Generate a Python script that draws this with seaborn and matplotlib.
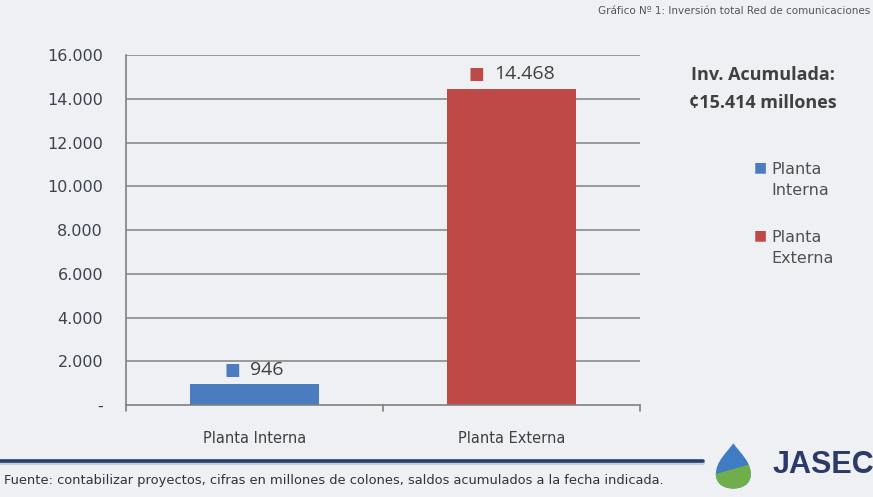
"""Inversión total Red de comunicaciones - bar chart"""

import matplotlib
matplotlib.use("Agg")
import matplotlib.pyplot as plt
from matplotlib.offsetbox import TextArea, HPacker, AnnotationBbox
from matplotlib.path import Path
from matplotlib.patches import PathPatch, Polygon
import seaborn as sns
import pandas as pd


# data (millones de colones)
categories = ['Planta Interna', 'Planta Externa']
values = [946, 14468]
total = 15414
y_ticks = [0, 2000, 4000, 6000, 8000, 10000, 12000, 14000, 16000]
legend_labels = ['Planta\nInterna', 'Planta\nExterna']

BG = '#eef0f4'
colors = ['#4a7cbf', '#be4a48']
TXT = '#404040'


def fmt(v):
    # spanish thousands separator, zero shown as "-"
    return '-' if v == 0 else f'{v:,}'.replace(',', '.')


sns.set_style('white')
plt.rcParams['font.family'] = ['Open Sans', 'DejaVu Sans']

df = pd.DataFrame({'cat': categories, 'val': values})

fig = plt.figure(figsize=(8.73, 4.97), dpi=100, facecolor=BG)
ax = fig.add_axes([0.1443, 0.185, 0.5888, 0.704], facecolor=BG)

# gridlines behind bars
for t in y_ticks[1:]:
    ax.axhline(t, color='#8a8a8a', lw=1.2, zorder=0)

sns.barplot(data=df, x='cat', y='val', hue='cat', palette=colors,
            width=0.5, legend=False, ax=ax, zorder=2, saturation=1,
            linewidth=0, edgecolor='none')

ax.set_xlim(-0.5, 1.5)
ax.set_ylim(0, 16000)
ax.set_yticks(y_ticks)
ax.set_yticklabels([fmt(t) for t in y_ticks], fontsize=11.5, color='#3c4250',
                   family='DejaVu Sans')
ax.set_xticks([0, 1])
ax.set_xticklabels(categories, fontsize=10.5, color=TXT, family='DejaVu Sans')
ax.set_xlabel('')
ax.set_ylabel('')
ax.tick_params(axis='x', length=0, pad=19)
ax.tick_params(axis='y', length=5, direction='inout', color='#808080', pad=14)

# category boundary ticks on x axis
for xb in [-0.5, 0.5, 1.5]:
    ax.plot([xb, xb], [0, -250], color='#808080', lw=1.2, clip_on=False, zorder=3)

for s in ['top', 'right']:
    ax.spines[s].set_visible(False)
for s in ['left', 'bottom']:
    ax.spines[s].set_color('#808080')
    ax.spines[s].set_linewidth(1.2)

# data labels: colored square + number
for i, v in enumerate(values):
    box = HPacker(children=[
        TextArea('■', textprops=dict(color=colors[i], fontsize=12,
                                     family='DejaVu Sans')),
        TextArea(fmt(v), textprops=dict(color=TXT, fontsize=14)),
    ], align='baseline', pad=0, sep=7)
    ab = AnnotationBbox(box, (i, v), xybox=(0, 4), boxcoords='offset points',
                        frameon=False, box_alignment=(0.5, 0), zorder=4)
    ax.add_artist(ab)

# title top right
fig.text(0.997, 0.978, 'Gráfico Nº 1: Inversión total Red de comunicaciones',
         ha='right', va='center', fontsize=7.5, color='#555555',
         family='DejaVu Sans')

# cumulative investment note
fig.text(0.874, 0.85, 'Inv. Acumulada:', ha='center', va='center',
         fontsize=13, fontweight='bold', color=TXT)
fig.text(0.874, 0.793, f'¢{fmt(total)} millones', ha='center', va='center',
         fontsize=13, fontweight='bold', color=TXT)

# legend on the right
for i, lab in enumerate(legend_labels):
    y0 = 0.664 - i * 0.137
    fig.text(0.863, y0, '■', ha='left', va='center', fontsize=10,
             color=colors[i], family='DejaVu Sans')
    fig.text(0.884, y0 - 0.026, lab, ha='left', va='center', fontsize=11.5,
             color='#505050', linespacing=1.55, family='DejaVu Sans')

# footer rule and source
fig.add_artist(plt.Line2D([0, 0.805], [0.068, 0.068], color='#c9cdd6', lw=3,
                          transform=fig.transFigure))
fig.add_artist(plt.Line2D([0, 0.805], [0.073, 0.073], color='#24406f', lw=2.6,
                          transform=fig.transFigure))
fig.text(0.005, 0.033, 'Fuente: contabilizar proyectos, cifras en millones de colones, '
         'saldos acumulados a la fecha indicada.', ha='left', va='center',
         fontsize=9.4, color='#333333', family='DejaVu Sans')

# JASEC logo: drop + text
lax = fig.add_axes([0.815, 0.015, 0.05, 0.095])
lax.set_axis_off()
lax.set_xlim(-1, 1)
lax.set_ylim(-1.05, 1.25)
drop = Path([(0, 1.2),
             (0.35, 0.7), (0.8, 0.3), (0.8, -0.3),
             (0.8, -0.8), (0.4, -1.0), (0, -1.0),
             (-0.4, -1.0), (-0.8, -0.8), (-0.8, -0.3),
             (-0.8, 0.3), (-0.35, 0.7), (0, 1.2),
             (0, 1.2)],
            [Path.MOVETO] + [Path.CURVE4] * 12 + [Path.CLOSEPOLY])
drop_patch = PathPatch(drop, facecolor='#3f7cc4', edgecolor='none')
lax.add_patch(drop_patch)
green = Polygon([(-1, -0.35), (1, 0.25), (1, -1.1), (-1, -1.1)],
                facecolor='#6fae4b', edgecolor='none')
lax.add_patch(green)
green.set_clip_path(drop_patch)
fig.text(0.943, 0.064, 'JASEC', ha='center', va='center', fontsize=22,
         fontweight='bold', color='#2b3a67', family='Liberation Sans')

fig.savefig('out.png', dpi=100, facecolor=BG)
